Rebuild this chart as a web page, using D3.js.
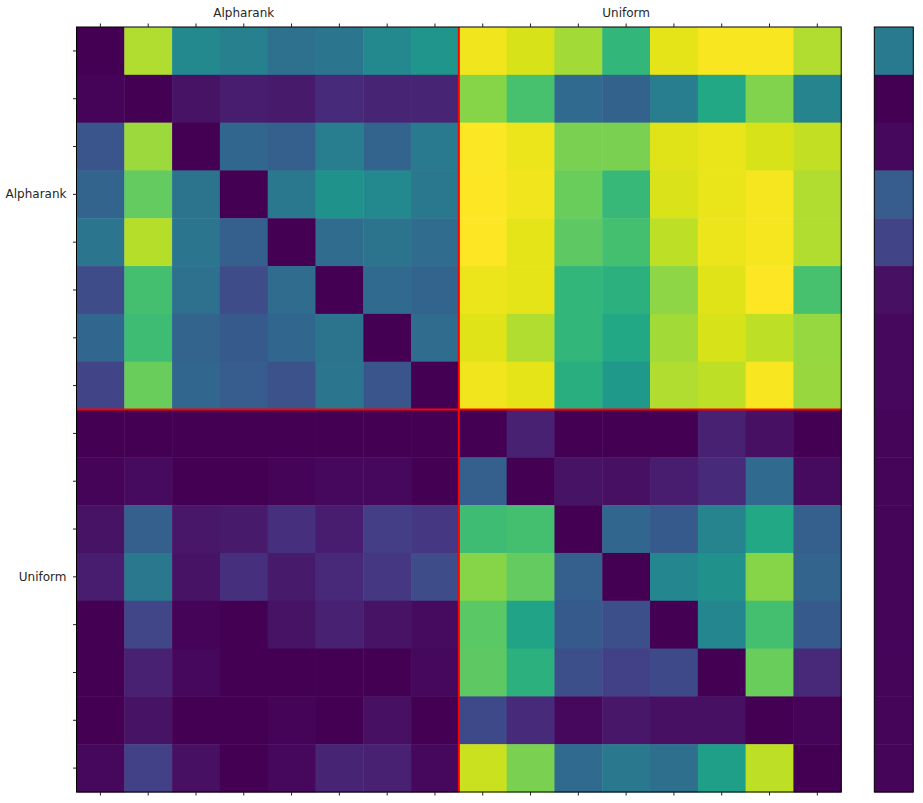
<!DOCTYPE html>
<html>
<head>
<meta charset="utf-8">
<script src="https://cdn.jsdelivr.net/npm/d3@7"></script>
<style>
  body { margin: 0; background: #fff; }
  svg { display: block; }
  text { font-family: "DejaVu Sans", sans-serif; font-size: 12px; fill: #262626; }
</style>
</head>
<body>
<svg id="chart" width="923" height="803"></svg>
<script>
'use strict';

// groups along both axes, 8 entries each
const groups = ['Alpharank', 'Uniform'];
const perGroup = 8;

// rows 0-7 (Alpharank), 16 columns each, viridis position 0..1
const alpharankRows = [
  [0.00, 0.88, 0.47, 0.43, 0.37, 0.39, 0.47, 0.52, 0.98, 0.94, 0.86, 0.66, 0.96, 0.99, 0.99, 0.88],
  [0.01, 0.00, 0.05, 0.08, 0.07, 0.12, 0.10, 0.10, 0.82, 0.71, 0.34, 0.31, 0.42, 0.60, 0.81, 0.45],
  [0.26, 0.85, 0.00, 0.33, 0.30, 0.42, 0.32, 0.41, 0.995, 0.97, 0.80, 0.80, 0.95, 0.965, 0.94, 0.91],
  [0.32, 0.76, 0.38, 0.00, 0.40, 0.51, 0.47, 0.40, 1.00, 0.98, 0.77, 0.67, 0.945, 0.965, 0.985, 0.88],
  [0.39, 0.89, 0.39, 0.30, 0.00, 0.35, 0.38, 0.35, 1.00, 0.96, 0.75, 0.70, 0.90, 0.97, 0.985, 0.88],
  [0.23, 0.70, 0.37, 0.23, 0.35, 0.00, 0.34, 0.32, 0.97, 0.96, 0.66, 0.64, 0.83, 0.95, 1.00, 0.71],
  [0.33, 0.69, 0.32, 0.28, 0.33, 0.38, 0.00, 0.35, 0.95, 0.88, 0.66, 0.60, 0.86, 0.94, 0.90, 0.84],
  [0.20, 0.77, 0.33, 0.29, 0.25, 0.39, 0.26, 0.00, 0.98, 0.96, 0.63, 0.54, 0.88, 0.90, 0.99, 0.845]
];

// rows 8-15 (Uniform)
const uniformRows = [
  [0.00, 0.00, 0.00, 0.00, 0.00, 0.00, 0.00, 0.00, 0.00, 0.09, 0.00, 0.00, 0.00, 0.09, 0.04, 0.00],
  [0.01, 0.03, 0.00, 0.00, 0.01, 0.02, 0.02, 0.00, 0.30, 0.00, 0.05, 0.04, 0.08, 0.12, 0.34, 0.03],
  [0.05, 0.30, 0.06, 0.07, 0.14, 0.08, 0.18, 0.16, 0.69, 0.70, 0.00, 0.33, 0.28, 0.45, 0.60, 0.30],
  [0.08, 0.40, 0.05, 0.14, 0.07, 0.11, 0.16, 0.23, 0.82, 0.76, 0.30, 0.00, 0.46, 0.50, 0.82, 0.32],
  [0.00, 0.21, 0.01, 0.00, 0.05, 0.09, 0.05, 0.03, 0.745, 0.58, 0.28, 0.24, 0.00, 0.46, 0.70, 0.28],
  [0.00, 0.09, 0.02, 0.00, 0.00, 0.00, 0.00, 0.02, 0.75, 0.64, 0.24, 0.19, 0.22, 0.00, 0.77, 0.11],
  [0.00, 0.05, 0.00, 0.00, 0.01, 0.00, 0.04, 0.00, 0.22, 0.12, 0.02, 0.06, 0.04, 0.04, 0.00, 0.01],
  [0.02, 0.19, 0.04, 0.00, 0.02, 0.10, 0.09, 0.02, 0.92, 0.80, 0.34, 0.40, 0.36, 0.56, 0.90, 0.00]
];

// single column drawn to the right of the matrix
const sideValues = [0.41, 0.00, 0.02, 0.29, 0.20, 0.04, 0.02, 0.02,
                    0.015, 0.015, 0.015, 0.015, 0.015, 0.015, 0.015, 0.015];

/**
 * draw the matrix, the dividers, the axes and the side column
 */
function drawChart() {
  const rows = alpharankRows.concat(uniformRows);
  const n = rows.length;
  const left = 76.5, top = 27, right = 841.2, bottom = 792;

  const svg = d3.select('#chart');
  const x = d3.scaleBand().domain(d3.range(n)).range([left, right]);
  const y = d3.scaleBand().domain(d3.range(n)).range([top, bottom]);
  const color = (v) => d3.interpolateViridis(v);

  // label only the middle-ish tick of every group
  const labelAt = (i) => (i % perGroup === perGroup / 2 - 1) ? groups[Math.floor(i / perGroup)] : '';

  const cells = rows.flatMap((r, ri) => r.map((v, ci) => ({row: ri, col: ci, value: v})));
  svg.append('g')
      .selectAll('rect')
      .data(cells)
      .enter().append('rect')
      .attr('x', (d) => x(d.col))
      .attr('y', (d) => y(d.row))
      .attr('width', x.bandwidth() + 0.5)
      .attr('height', y.bandwidth() + 0.5)
      .attr('fill', (d) => color(d.value));

  // red dividers between the groups
  const split = x(perGroup);
  const splitY = y(perGroup);
  svg.append('line')
      .attr('x1', split).attr('x2', split)
      .attr('y1', top).attr('y2', bottom)
      .attr('stroke', '#ff0000')
      .attr('stroke-width', 2);
  svg.append('line')
      .attr('x1', left).attr('x2', right)
      .attr('y1', splitY).attr('y2', splitY)
      .attr('stroke', '#ff0000')
      .attr('stroke-width', 2);

  svg.append('rect')
      .attr('x', left).attr('y', top)
      .attr('width', right - left).attr('height', bottom - top)
      .attr('fill', 'none')
      .attr('stroke', '#000')
      .attr('stroke-width', 1);

  const topAxis = svg.append('g')
      .attr('transform', 'translate(0,' + top + ')')
      .call(d3.axisTop(x).tickSize(3.5).tickPadding(7).tickFormat(labelAt));
  const leftAxis = svg.append('g')
      .attr('transform', 'translate(' + left + ',0)')
      .call(d3.axisLeft(y).tickSize(3.5).tickPadding(6.5).tickFormat(labelAt));
  const bottomAxis = svg.append('g')
      .attr('transform', 'translate(0,' + bottom + ')')
      .call(d3.axisBottom(x).tickSize(3.5).tickFormat(''));
  [topAxis, leftAxis, bottomAxis].forEach((a) => {
    a.select('.domain').remove();
    a.selectAll('.tick line').attr('stroke', '#222');
    a.selectAll('text').attr('font-family', null).attr('font-size', null);
  });

  // side column
  const sx0 = 874.3, sx1 = 913.3;
  svg.append('g')
      .selectAll('rect')
      .data(sideValues)
      .enter().append('rect')
      .attr('x', sx0)
      .attr('y', (d, i) => y(i))
      .attr('width', sx1 - sx0)
      .attr('height', y.bandwidth() + 0.5)
      .attr('fill', (d) => color(d));
  svg.append('rect')
      .attr('x', sx0).attr('y', top)
      .attr('width', sx1 - sx0).attr('height', bottom - top)
      .attr('fill', 'none')
      .attr('stroke', '#000')
      .attr('stroke-width', 1);
}

drawChart();
</script>
</body>
</html>
